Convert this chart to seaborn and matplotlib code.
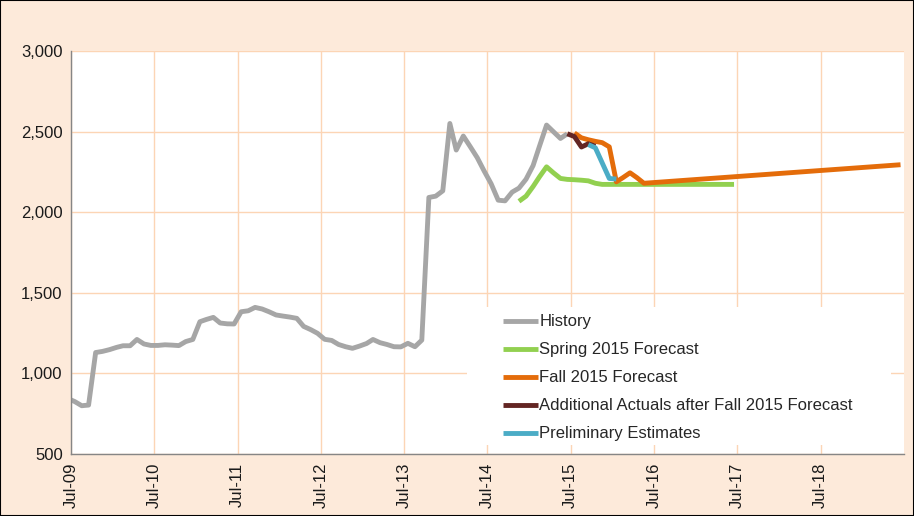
import numpy as np
import pandas as pd
import matplotlib
matplotlib.use('Agg')
import matplotlib.pyplot as plt
import matplotlib.dates as mdates
from matplotlib.ticker import FuncFormatter
import seaborn as sns

# monthly history, Jul-09 .. Jul-15
history_start = '2009-07'
history_vals = [845, 826, 800, 804, 1130, 1137, 1148, 1162, 1172, 1172,
                1211, 1183, 1174, 1174, 1178, 1176, 1173, 1198, 1211, 1321,
                1335, 1348, 1313, 1308, 1307, 1383, 1389, 1410, 1400, 1383,
                1363, 1356, 1350, 1342, 1292, 1272, 1249, 1212, 1205, 1180,
                1166, 1156, 1170, 1186, 1211, 1191, 1180, 1166, 1165, 1187,
                1166, 1207, 2092, 2100, 2133, 2551, 2386, 2473, 2408, 2339,
                2257, 2177, 2075, 2071, 2125, 2150, 2205, 2290, 2410, 2541,
                2500, 2458, 2487]

spring_dates = ['2014-12', '2015-01', '2015-02', '2015-03', '2015-04', '2015-05',
                '2015-06', '2015-07', '2015-08', '2015-09', '2015-10', '2015-11',
                '2015-12', '2017-07']
spring_vals = [2068, 2100, 2160, 2220, 2282, 2245, 2210, 2204, 2202, 2199,
               2195, 2180, 2173, 2173]

fall_dates = ['2015-08', '2015-09', '2015-10', '2015-11', '2015-12', '2016-01',
              '2016-02', '2016-03', '2016-04', '2016-05', '2016-06', '2019-07']
fall_vals = [2492, 2462, 2450, 2440, 2432, 2406, 2189, 2215, 2245, 2215,
             2180, 2295]

actual_dates = ['2015-07', '2015-08', '2015-09', '2015-10', '2015-11']
actual_vals = [2487, 2470, 2405, 2425, 2410]

prelim_dates = ['2015-10', '2015-11', '2016-01', '2016-02']
prelim_vals = [2420, 2400, 2210, 2206]

names = ['History', 'Spring 2015 Forecast', 'Fall 2015 Forecast',
         'Additional Actuals after Fall 2015 Forecast', 'Preliminary Estimates']
colors = ['#A6A6A6', '#92D050', '#E46C0A', '#632523', '#4BACC6']

history_dates = pd.date_range(history_start, periods=len(history_vals), freq='MS')
frames = [
    pd.DataFrame({'date': history_dates, 'value': history_vals, 'series': names[0]}),
    pd.DataFrame({'date': pd.to_datetime(spring_dates), 'value': spring_vals, 'series': names[1]}),
    pd.DataFrame({'date': pd.to_datetime(fall_dates), 'value': fall_vals, 'series': names[2]}),
    pd.DataFrame({'date': pd.to_datetime(actual_dates), 'value': actual_vals, 'series': names[3]}),
    pd.DataFrame({'date': pd.to_datetime(prelim_dates), 'value': prelim_vals, 'series': names[4]}),
]
df = pd.concat(frames, ignore_index=True)

bg = '#FDEADA'
grid_c = '#FCD5B5'

sns.set_style('white')
plt.rcParams['font.family'] = ['Liberation Sans', 'DejaVu Sans']

fig = plt.figure(figsize=(9.14, 5.16), dpi=100, facecolor=bg)
ax = fig.add_axes([0.0777, 0.12, 0.9113, 0.781])
ax.set_facecolor('white')

sns.lineplot(data=df, x='date', y='value', hue='series', hue_order=names,
             palette=dict(zip(names, colors)), linewidth=3.5, ax=ax,
             estimator=None, sort=True)
for ln in ax.get_lines():
    ln.set_solid_capstyle('butt')
    ln.set_solid_joinstyle('round')

# excel puts monthly points mid-slot, so the July ticks sit half a month in
ax.set_xlim(pd.Timestamp('2009-07-16'), pd.Timestamp('2019-07-16'))
ax.set_ylim(500, 3000)
ax.set_yticks(np.arange(500, 3001, 500))
ax.yaxis.set_major_formatter(FuncFormatter(lambda v, p: f'{int(v):,}'))
ax.set_xticks([pd.Timestamp(f'{y}-07-16') for y in range(2009, 2019)])
ax.xaxis.set_major_formatter(mdates.DateFormatter('%b-%y'))
plt.setp(ax.get_xticklabels(), rotation=90)

ax.grid(True, color=grid_c, linewidth=1)
ax.set_axisbelow(True)
for s in ['top', 'right']:
    ax.spines[s].set_visible(False)
for s in ['left', 'bottom']:
    ax.spines[s].set_color('#868686')
    ax.spines[s].set_linewidth(1)
ax.tick_params(axis='both', direction='out', length=4, width=1, color='#868686',
               labelsize=12, labelcolor='#1a1a1a', pad=2)
ax.set_xlabel('')
ax.set_ylabel('')

# white legend area hiding the grid
ax.add_patch(plt.Rectangle((0.475, 0.022), 0.51, 0.343, transform=ax.transAxes,
                           facecolor='white', edgecolor='none', zorder=1.5))

handles, labels = ax.get_legend_handles_labels()
ax.legend(handles, labels, loc='upper left', bbox_to_anchor=(490 / 914, 1 - 301 / 516),
          bbox_transform=fig.transFigure, frameon=False, fontsize=12,
          handlelength=2.1, handletextpad=0.05, labelspacing=0.78,
          borderpad=0.3)

fig.patches.append(plt.Rectangle((0, 0), 1, 1, transform=fig.transFigure,
                                 fill=False, edgecolor='black', linewidth=1.5))

fig.savefig('out.png', dpi=100, facecolor=bg)
